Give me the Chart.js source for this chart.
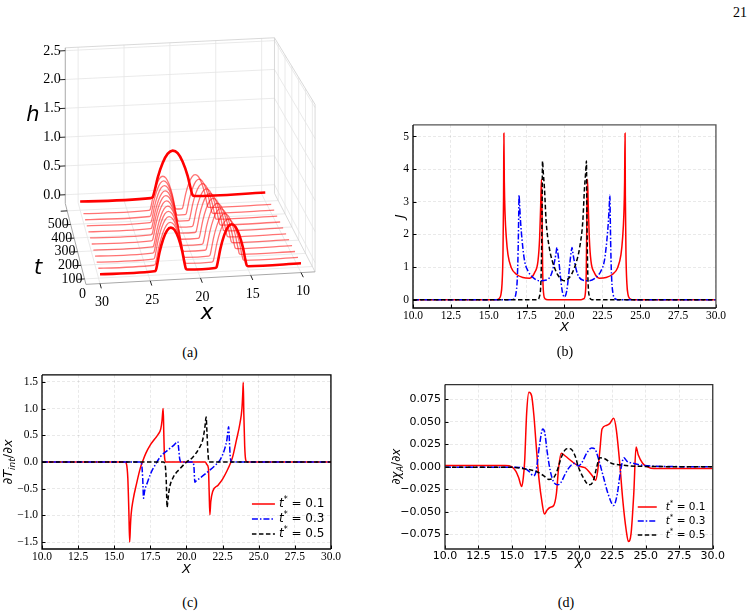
<!DOCTYPE html>
<html>
<head>
<meta charset="utf-8">
<script src="https://cdn.jsdelivr.net/npm/chart.js@4.4.1/dist/chart.umd.min.js"></script>
<style>
  body { margin: 0; background: #fff; }
  #page { position: relative; width: 753px; height: 611px; background: #fff; overflow: hidden; }
  canvas { position: absolute; }
  .cap { position: absolute; font: 14px "Liberation Serif", "Times New Roman", serif; color: #000; transform: translate(-50%, -50%); }
</style>
</head>
<body>
<div id="page">
  <canvas id="pa"></canvas>
  <canvas id="pb"></canvas>
  <canvas id="pc"></canvas>
  <canvas id="pd"></canvas>
  <div class="cap" style="left:740px;top:13px">21</div>
  <div class="cap" style="left:190px;top:353px">(a)</div>
  <div class="cap" style="left:565px;top:352px">(b)</div>
  <div class="cap" style="left:190px;top:603px">(c)</div>
  <div class="cap" style="left:566px;top:603px">(d)</div>
</div>
<script>
// ---- (a) film height h(x, t): two drops that drift together, then one merged drop
const layerT = [60, 105, 150, 195, 240, 285, 330, 375, 420, 465, 510];
const leftDropX = [22.95, 22.8, 22.7, 22.55, 22.4, 22.3, 22.15, 22.0, 21.85, 21.7, 21.55];
const rightDropX = [16.9, 17.0, 17.1, 17.25, 17.35, 17.5, 17.6, 17.7, 17.85, 17.95, 18.1];
const dropH = [0.69, 0.68, 0.68, 0.67, 0.66, 0.65, 0.64, 0.62, 0.61, 0.59, 0.57];
const dropHalfW = [1.5, 1.5, 1.48, 1.47, 1.45, 1.44, 1.42, 1.4, 1.38, 1.37, 1.35];
const mergedT = 600, mergedX = 20.0, mergedH = 0.8, mergedHalfW = 2.15;
// drop cross-section (offset / half width, height / peak)
const dropProfile = [[-1.1, 0], [-1, 0.02], [-0.9, 0.17], [-0.75, 0.44], [-0.5, 0.75], [-0.25, 0.94], [0, 1],
  [0.25, 0.94], [0.5, 0.75], [0.75, 0.44], [0.9, 0.17], [1, 0.02], [1.1, 0]];
const xTicks3d = [30, 25, 20, 15, 10];
const tTicks3d = [0, 100, 200, 300, 400, 500, 600];
const hTicks3d = [0, 0.5, 1.0, 1.5, 2.0, 2.5];

// ---- (b) J(x)
const jRed = [[10,0],[15.5,0],[15.7,0.04],[15.8,0.15],[15.88,0.5],[15.94,1.4],[15.98,3.2],[16.0,5.1],[16.03,3.6],[16.08,2.6],[16.16,1.9],[16.27,1.38],[16.49,0.98],[16.82,0.78],[17.26,0.68],[17.7,0.66],[18.03,0.83],[18.25,1.18],[18.36,1.89],[18.43,2.9],[18.48,3.69],[18.52,2.6],[18.56,0.9],[18.62,0.2],[18.72,0.03],[18.9,0],
  [21.1,0],[21.28,0.03],[21.38,0.2],[21.44,0.9],[21.48,2.6],[21.52,3.69],[21.57,2.9],[21.64,1.89],[21.75,1.18],[21.97,0.83],[22.3,0.66],[22.74,0.68],[23.18,0.78],[23.51,0.98],[23.73,1.38],[23.84,1.9],[23.92,2.6],[23.97,3.6],[24.0,5.1],[24.02,3.2],[24.06,1.4],[24.12,0.5],[24.2,0.15],[24.3,0.04],[24.5,0],[30,0]];
const jBlue = [[10,0],[16.5,0],[16.7,0.05],[16.8,0.2],[16.88,0.6],[16.94,1.5],[16.98,2.6],[17.0,3.2],[17.04,2.9],[17.1,2.4],[17.15,2.09],[17.25,1.6],[17.37,1.18],[17.59,0.88],[17.92,0.68],[18.36,0.58],[18.8,0.6],[19.13,0.78],[19.35,1.18],[19.45,1.45],[19.5,1.6],[19.56,1.45],[19.63,1.18],[19.74,0.68],[19.85,0.27],[20.0,0.08],
  [20.15,0.27],[20.26,0.68],[20.37,1.18],[20.44,1.45],[20.5,1.6],[20.55,1.45],[20.65,1.18],[20.87,0.78],[21.2,0.6],[21.64,0.58],[22.08,0.68],[22.41,0.88],[22.63,1.18],[22.75,1.6],[22.85,2.09],[22.9,2.4],[22.96,2.9],[23.0,3.2],[23.02,2.6],[23.06,1.5],[23.12,0.6],[23.2,0.2],[23.3,0.05],[23.5,0],[30,0]];
const jBlack = [[10,0],[18.2,0],[18.35,0.1],[18.43,0.4],[18.48,1.2],[18.52,2.6],[18.55,4.25],[18.6,3.9],[18.68,3.4],[18.79,2.4],[19.0,1.59],[19.2,1.18],[19.53,0.78],[19.86,0.6],[20.0,0.58],
  [20.14,0.6],[20.47,0.78],[20.8,1.18],[21.0,1.59],[21.21,2.4],[21.32,3.4],[21.4,3.9],[21.45,4.25],[21.48,2.6],[21.52,1.2],[21.57,0.4],[21.65,0.1],[21.8,0],[30,0]];

// ---- (c) dT_int/dx
const tRed = [[10,0],[15.75,0],[15.85,-0.04],[15.94,-0.3],[16.01,-0.9],[16.07,-1.5],[16.12,-1.2],[16.17,-0.98],[16.3,-0.72],[16.55,-0.4],[16.8,-0.12],[16.95,0],[17.2,0.17],[17.5,0.32],[17.8,0.43],[18.05,0.52],[18.22,0.62],[18.31,0.78],[18.36,0.95],[18.39,1.0],[18.43,0.55],[18.48,0.1],[18.56,0],
  [21.3,0],[21.42,-0.05],[21.52,-0.12],[21.57,-0.55],[21.62,-0.99],[21.68,-0.75],[21.82,-0.55],[22.2,-0.43],[22.5,-0.32],[22.8,-0.17],[23.05,-0.02],[23.2,0.1],[23.45,0.4],[23.7,0.72],[23.84,1.0],[23.9,1.3],[23.93,1.49],[23.97,0.9],[24.03,0.3],[24.1,0.04],[24.2,0],[30,0]];
const tBlue = [[10,0],[16.8,0],[16.9,-0.05],[16.97,-0.3],[17.03,-0.68],[17.1,-0.55],[17.3,-0.38],[17.55,-0.2],[17.85,-0.05],[18.2,0.1],[18.7,0.22],[19.15,0.32],[19.4,0.38],[19.46,0.25],[19.53,0.06],[19.65,0],
  [20.45,0],[20.52,-0.1],[20.58,-0.38],[20.65,-0.36],[20.95,-0.3],[21.5,-0.18],[22.0,-0.06],[22.35,0.05],[22.65,0.25],[22.8,0.42],[22.92,0.66],[22.97,0.4],[23.03,0.1],[23.12,0],[30,0]];
const tBlack = [[10,0],[18.4,0],[18.52,-0.05],[18.6,-0.35],[18.66,-0.85],[18.72,-0.7],[18.83,-0.48],[19.06,-0.3],[19.5,-0.14],[19.98,-0.01],[20.44,0.09],[20.9,0.27],[21.13,0.42],[21.28,0.66],[21.36,0.84],[21.42,0.55],[21.48,0.2],[21.56,0],[30,0]];

// ---- (d) dchi_A/dx
const cRed = [[10,0.0015],[14.5,0.0015],[15.0,0],[15.3,-0.005],[15.5,-0.012],[15.73,-0.022],[15.85,-0.012],[15.95,0.006],[16.1,0.06],[16.27,0.083],[16.47,0.079],[16.64,0.057],[16.81,0.024],[17.01,-0.012],[17.26,-0.041],[17.43,-0.0525],[17.63,-0.048],[17.87,-0.045],[18.12,-0.043],[18.32,-0.03],[18.49,-0.001],[18.68,0.015],[18.98,0.012],[19.47,0.006],[19.96,0.001],[20.45,-0.001],[20.82,-0.0065],[21.1,-0.012],[21.25,-0.015],[21.4,-0.005],[21.56,0.017],[21.73,0.042],[22.05,0.046],[22.3,0.048],[22.6,0.054],[22.79,0.042],[23.04,0.006],[23.28,-0.037],[23.53,-0.07],[23.7,-0.083],[23.9,-0.074],[24.1,-0.03],[24.27,0.022],[24.44,0.013],[24.76,0.004],[25.13,0],[25.6,-0.002],[30,-0.002]];
const cBlue = [[10,-0.0005],[15,-0.0005],[15.8,-0.001],[16.27,-0.005],[16.6,-0.01],[16.8,-0.005],[17.06,0.024],[17.3,0.042],[17.45,0.038],[17.63,0.017],[17.87,-0.005],[18.12,-0.017],[18.44,-0.02],[18.68,-0.017],[18.98,-0.008],[19.35,0.0007],[19.72,0.004],[19.96,0.001],[20.2,0.004],[20.58,0.015],[20.95,0.021],[21.19,0.02],[21.44,0.01],[21.81,-0.01],[22.18,-0.03],[22.6,-0.043],[22.87,-0.03],[23.11,-0.005],[23.36,0.01],[23.6,0.006],[24.02,0.004],[24.64,0.002],[25.6,0.0007],[30,0]];
const cBlack = [[10,-0.0004],[15,-0.0005],[15.8,-0.002],[16.77,-0.005],[17.38,-0.01],[17.75,-0.014],[18.12,-0.012],[18.36,-0.005],[18.73,0.012],[19.1,0.02],[19.35,0.02],[19.72,0.012],[19.96,0],[20.33,-0.012],[20.75,-0.02],[21.07,-0.016],[21.32,-0.001],[21.56,0.01],[21.93,0.009],[22.42,0.004],[23.16,0.002],[24.15,0.0007],[30,0]];

const xTicks = [10, 12.5, 15, 17.5, 20, 22.5, 25, 27.5, 30];
const jTicks = [0, 1, 2, 3, 4, 5];
const tIntTicks = [-1.5, -1.0, -0.5, 0, 0.5, 1.0, 1.5];
const chiTicks = [-0.075, -0.05, -0.025, 0, 0.025, 0.05, 0.075];
const seriesLabels = ['0.1', '0.3', '0.5'];

const SERIF = '"Liberation Serif", "Times New Roman", serif';
const SANS = '"DejaVu Sans", Verdana, sans-serif';
Chart.defaults.color = '#000';

const fmt = (v, d) => (v < 0 ? '\u2212' : '') + Math.abs(v).toFixed(d);

function drawRich(ctx, parts, x, y, size, align) {
  const fontOf = p => `${p.it ? 'italic ' : ''}${p.sub || p.sup ? Math.round(size * 0.7) : size}px ${SANS}`;
  let w = 0;
  parts.forEach(p => { ctx.font = fontOf(p); w += ctx.measureText(p.s).width; });
  let cx = align === 'left' ? x : x - w / 2;
  ctx.textAlign = 'left';
  ctx.textBaseline = 'middle';
  parts.forEach(p => {
    ctx.font = fontOf(p);
    const dy = p.sub ? size * 0.3 : p.sup ? -size * 0.35 : 0;
    ctx.fillText(p.s, cx, y + dy);
    cx += ctx.measureText(p.s).width;
  });
}

// frame, inward ticks, axis labels and legend for the 2-D panels
const panelDecor = {
  id: 'panelDecor',
  afterDatasetsDraw(chart, args, o) {
    const { ctx, chartArea: a } = chart;
    const sx = chart.scales.x, sy = chart.scales.y;
    ctx.save();
    ctx.strokeStyle = '#000';
    ctx.lineWidth = 1;
    ctx.beginPath();
    sx.ticks.forEach(t => { const p = Math.round(sx.getPixelForValue(t.value)) + 0.5; ctx.moveTo(p, a.bottom); ctx.lineTo(p, a.bottom - 3.5); });
    sy.ticks.forEach(t => { const p = Math.round(sy.getPixelForValue(t.value)) + 0.5; ctx.moveTo(a.left, p); ctx.lineTo(a.left + 3.5, p); });
    ctx.stroke();
    ctx.lineWidth = 1.3;
    ctx.strokeStyle = o.frameLight;
    ctx.beginPath();
    ctx.moveTo(a.left, a.top); ctx.lineTo(a.right, a.top); ctx.lineTo(a.right, a.bottom);
    ctx.stroke();
    ctx.strokeStyle = o.frame;
    ctx.beginPath();
    ctx.moveTo(a.left, a.top); ctx.lineTo(a.left, a.bottom); ctx.lineTo(a.right, a.bottom);
    ctx.stroke();

    ctx.fillStyle = '#000';
    drawRich(ctx, o.xlabel, (a.left + a.right) / 2, a.bottom + o.xlabelDy, o.labelSize);
    ctx.save();
    ctx.translate(a.left - o.ylabelDx, (a.top + a.bottom) / 2);
    ctx.rotate(-Math.PI / 2);
    drawRich(ctx, o.ylabel, 0, 0, o.labelSize);
    ctx.restore();

    if (o.legend) {
      const L = o.legend;
      chart.data.datasets.forEach((ds, i) => {
        const y = a.bottom - L.fromBottom + i * L.dy;
        ctx.strokeStyle = ds.borderColor;
        ctx.lineWidth = ds.borderWidth;
        ctx.setLineDash(ds.borderDash || []);
        ctx.beginPath();
        ctx.moveTo(a.right - L.lineX0, y); ctx.lineTo(a.right - L.lineX1, y);
        ctx.stroke();
        ctx.setLineDash([]);
        ctx.fillStyle = '#000';
        drawRich(ctx, [{ s: 't', it: true }, { s: '*', sup: true }, { s: ' = ' + seriesLabels[i] }], a.right - L.textX, y, L.size, 'left');
      });
    }
    ctx.restore();
  }
};

function series(pairs, color, dash, order) {
  return {
    data: pairs.map(([x, y]) => ({ x, y })),
    borderColor: color, borderWidth: 1.5, borderDash: dash, order,
    pointRadius: 0, fill: false, cubicInterpolationMode: 'monotone'
  };
}

function linePanel(id, box, datasets, yTicks, yDigits, yRange, tickFont, decor) {
  const c = document.getElementById(id);
  const left = box.L - box.yw, top = box.T - 8;
  c.width = box.R - left + 10;
  c.height = box.B - top + 30;
  c.style.left = left + 'px';
  c.style.top = top + 'px';
  const axisCommon = {
    grid: { color: 'rgba(0,0,0,0.11)', lineWidth: 0.8, drawTicks: false },
    border: { display: false, dash: [3, 2] },
  };
  return new Chart(c, {
    type: 'line',
    data: { datasets },
    options: {
      responsive: false, animation: false, devicePixelRatio: 1,
      layout: { padding: { left: 0, top: 8, right: 10, bottom: 0 } },
      plugins: { legend: { display: false }, tooltip: { enabled: false }, panelDecor: decor },
      scales: {
        x: {
          ...axisCommon, type: 'linear', min: 10, max: 30,
          afterBuildTicks: s => { s.ticks = xTicks.map(v => ({ value: v })); },
          afterFit: s => { s.height = 30; },
          ticks: { font: tickFont, padding: 1, maxRotation: 0, callback: v => v.toFixed(1) }
        },
        y: {
          ...axisCommon, type: 'linear', min: yRange[0], max: yRange[1],
          afterBuildTicks: s => { s.ticks = yTicks.map(v => ({ value: v })); },
          afterFit: s => { s.width = box.yw; },
          ticks: { font: tickFont, padding: 4, callback: v => fmt(v, yDigits) }
        }
      }
    },
    plugins: [panelDecor]
  });
}

const RED = '#ff0000', BLUE = '#0000ff', BLACK = '#000000';
const DASHDOT = [6, 2, 1.5, 2], DASHED = [4.5, 2.5];
const xLab = [{ s: 'X', it: true }];

linePanel('pb', { L: 413, R: 717, T: 122, B: 308, yw: 43 },
  [series(jRed, RED, [], 3), series(jBlue, BLUE, DASHDOT, 2), series(jBlack, BLACK, DASHED, 1)],
  jTicks, 0, [-0.255, 5.355], { family: SERIF, size: 11.5 },
  { frame: '#000', frameLight: '#555', xlabel: xLab, xlabelDy: 20, ylabel: [{ s: 'J', it: true }], ylabelDx: 12, labelSize: 13 });

linePanel('pc', { L: 42, R: 332, T: 372, B: 549, yw: 42 },
  [series(tRed, RED, [], 3), series(tBlue, BLUE, DASHDOT, 2), series(tBlack, BLACK, DASHED, 1)],
  tIntTicks, 1, [-1.63, 1.63], { family: SERIF, size: 11.5 },
  { frame: '#000', frameLight: '#000', xlabel: xLab, xlabelDy: 21,
    ylabel: [{ s: '\u2202' }, { s: 'T', it: true }, { s: 'int', it: true, sub: true }, { s: '/\u2202' }, { s: 'x', it: true }],
    ylabelDx: 33, labelSize: 13,
    legend: { fromBottom: 45, dy: 15, lineX0: 79, lineX1: 56, textX: 52, size: 12 } });

linePanel('pd', { L: 445, R: 716, T: 382, B: 549, yw: 60 },
  [series(cRed, RED, [], 3), series(cBlue, BLUE, DASHDOT, 2), series(cBlack, BLACK, DASHED, 1)],
  chiTicks, 3, [-0.0914, 0.0914], { family: SANS, size: 11 },
  { frame: '#222', frameLight: '#333', xlabel: xLab, xlabelDy: 16,
    ylabel: [{ s: '\u2202' }, { s: '\u03c7', it: true }, { s: 'A', it: true, sub: true }, { s: '/\u2202' }, { s: 'x', it: true }],
    ylabelDx: 48, labelSize: 12,
    legend: { fromBottom: 42, dy: 14, lineX0: 75, lineX1: 56, textX: 47, size: 10.5 } });

// ---- (a) 3-D view: screen position of (x, t, h)
function proj(x, t, h) {
  const tau = (t - 60) / 544;
  const xp = 30 - x;
  const fx = 100 + 10.05 * xp, fy = 274.3 - 0.55 * xp;
  const bx = 80 + 9.25 * xp, by = 201 - 0.45 * xp;
  return { x: fx + (bx - fx) * tau, y: fy + (by - fy) * tau - h * (62 - 4 * tau) };
}
const X0 = 31.4, X1 = 8.6, T0 = 60, T1 = 655, H0 = -0.15, H1 = 2.55;

function layerPoints(t, drops) {
  const pts = [[30, 0]];
  drops.forEach(([c, h, w]) => dropProfile.forEach(([u, f]) => pts.push([c - u * w, f * h])));
  pts.push([10, 0]);
  return pts.map(([x, h]) => proj(x, t, h));
}

const aSets = [];
aSets.push({ data: layerPoints(layerT[0], [[leftDropX[0], dropH[0], dropHalfW[0]], [rightDropX[0], dropH[0], dropHalfW[0]]]),
  borderColor: '#ff0000', borderWidth: 2.6, order: 0 });
aSets.push({ data: layerPoints(mergedT, [[mergedX, mergedH, mergedHalfW]]), borderColor: '#ff0000', borderWidth: 2.6, order: 1 });
for (let i = 1; i < layerT.length; i++) {
  aSets.push({ data: layerPoints(layerT[i], [[leftDropX[i], dropH[i], dropHalfW[i]], [rightDropX[i], dropH[i], dropHalfW[i]]]),
    borderColor: 'rgba(255,0,0,0.55)', borderWidth: 1.3, order: 2 });
}
aSets.forEach(d => Object.assign(d, { showLine: true, pointRadius: 0, cubicInterpolationMode: 'monotone', fill: false }));

const box3d = {
  id: 'box3d',
  beforeDatasetsDraw(chart) {
    const { ctx } = chart;
    const sx = chart.scales.x, sy = chart.scales.y;
    const P = (x, t, h) => { const p = proj(x, t, h); return [sx.getPixelForValue(p.x), sy.getPixelForValue(p.y)]; };
    const seg = (a, b) => { const p = P(...a), q = P(...b); ctx.moveTo(p[0], p[1]); ctx.lineTo(q[0], q[1]); };
    ctx.save();
    ctx.lineWidth = 0.8;
    ctx.strokeStyle = '#e4e4e4';
    ctx.beginPath();
    hTicks3d.forEach(h => { seg([X0, T1, h], [X1, T1, h]); seg([X1, T0, h], [X1, T1, h]); });
    xTicks3d.forEach(x => { seg([x, T1, H0], [x, T1, H1]); seg([x, T0, H0], [x, T1, H0]); });
    tTicks3d.slice(1).forEach(t => { seg([X1, t, H0], [X1, t, H1]); seg([X0, t, H0], [X1, t, H0]); });
    ctx.stroke();
    ctx.strokeStyle = '#cfcfcf';
    ctx.beginPath();
    seg([X0, T1, H1], [X1, T1, H1]); seg([X1, T0, H1], [X1, T1, H1]); seg([X1, T0, H0], [X1, T0, H1]);
    seg([X1, T1, H0], [X1, T1, H1]); seg([X1, T0, H0], [X1, T1, H0]);
    ctx.stroke();
    ctx.strokeStyle = '#a8a8a8';
    ctx.lineWidth = 1;
    ctx.beginPath();
    seg([X0, T1, H0], [X0, T1, H1]); seg([X0, T0, H0], [X0, T1, H0]); seg([X0, T0, H0], [X1, T0, H0]);
    ctx.stroke();
    ctx.restore();
  },
  afterDatasetsDraw(chart) {
    const { ctx } = chart;
    const sx = chart.scales.x, sy = chart.scales.y;
    const P = (x, t, h) => { const p = proj(x, t, h); return [sx.getPixelForValue(p.x), sy.getPixelForValue(p.y)]; };
    ctx.save();
    ctx.strokeStyle = '#222';
    ctx.lineWidth = 1;
    ctx.fillStyle = '#000';
    ctx.font = `14px ${SERIF}`;
    ctx.textBaseline = 'middle';
    ctx.beginPath();
    hTicks3d.forEach(h => { const p = P(X0, T1, h), q = P(32.0, T1, h); ctx.moveTo(...p); ctx.lineTo(...q); });
    tTicks3d.slice(1).forEach(t => { const p = P(X0, t, H0), q = P(32.1, t, H0); ctx.moveTo(...p); ctx.lineTo(...q); });
    xTicks3d.forEach(x => { const p = P(x, T0, H0), q = P(x, 25, H0); ctx.moveTo(...p); ctx.lineTo(...q); });
    ctx.stroke();
    ctx.textAlign = 'right';
    hTicks3d.forEach(h => { const q = P(32.0, T1, h); ctx.fillText(h.toFixed(1), q[0] + 1, q[1]); });
    tTicks3d.slice(0, -1).forEach(t => { const q = P(X0, t, H0); ctx.fillText(String(t), q[0] - 2, q[1] + (t === 0 ? 2 : 0)); });
    ctx.textAlign = 'center';
    xTicks3d.forEach(x => { const p = P(x, T0, H0); ctx.fillText(String(x), p[0] + 2, p[1] + 19); });
    ctx.font = `italic 21px ${SANS}`;
    ctx.fillText('h', 33, 116);
    ctx.fillText('t', 38, 269);
    ctx.fillText('x', 207, 314);
    ctx.restore();
  }
};

const ca = document.getElementById('pa');
ca.width = 380; ca.height = 335;
ca.style.left = '0px'; ca.style.top = '0px';
new Chart(ca, {
  type: 'scatter',
  data: { datasets: aSets },
  options: {
    responsive: false, animation: false, devicePixelRatio: 1,
    layout: { padding: 0 },
    plugins: { legend: { display: false }, tooltip: { enabled: false } },
    scales: {
      x: { type: 'linear', min: 0, max: 380, display: false },
      y: { type: 'linear', min: 0, max: 335, reverse: true, display: false }
    }
  },
  plugins: [box3d]
});
</script>
</body>
</html>
